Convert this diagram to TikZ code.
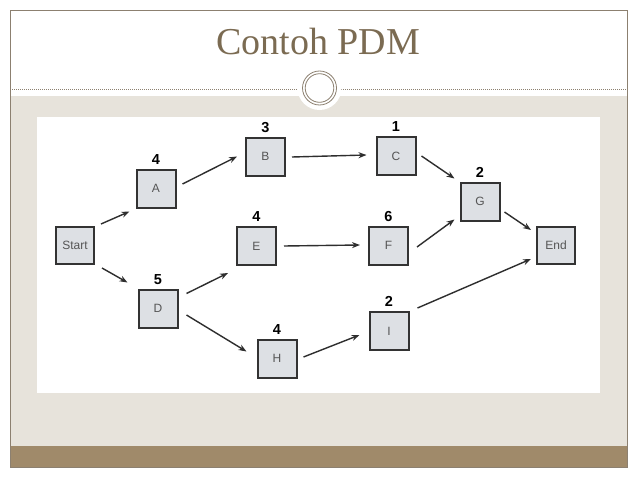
\documentclass[tikz,border=0pt]{standalone}
\usepackage{fontspec}
\setmainfont{Liberation Serif}
\setsansfont{Liberation Sans}
\usetikzlibrary{arrows.meta}
\definecolor{frameC}{HTML}{8C8070}
\definecolor{titleC}{HTML}{7B6B52}
\definecolor{beigeC}{HTML}{E7E3DB}
\definecolor{brownC}{HTML}{A08A6A}
\definecolor{boxF}{HTML}{DDE0E4}
\definecolor{boxD}{HTML}{333333}
\definecolor{txtC}{HTML}{555555}
\definecolor{arrC}{HTML}{2E2E2E}
\tikzset{
  box/.style={draw=boxD, fill=boxF, line width=2pt, minimum width=39pt, minimum height=38pt,
    inner sep=0pt, font=\sffamily\fontsize{12}{12}\selectfont, text=txtC},
  num/.style={font=\sffamily\bfseries\fontsize{14.5}{14.5}\selectfont, text=black, inner sep=0pt},
  boxn/.style={box, label={[num]90:#1}},
  arr/.style={draw=arrC, line width=1.4pt, -{Stealth[length=8pt,width=6pt]}},
  label distance=4pt
}
\begin{document}
\begin{tikzpicture}[x=1pt,y=-1pt]
\useasboundingbox (0,0) rectangle (638,479);
% slide background
\fill[white] (0,0) rectangle (638,479);
\fill[beigeC] (10,96) rectangle (627,446);
\fill[brownC] (10,446) rectangle (627,467);
\draw[frameC, line width=0.8pt] (10,10) rectangle (627,467);
\draw[frameC, line width=0.6pt, dash pattern=on 1pt off 1pt] (10,89) -- (297,89);
\draw[frameC, line width=0.6pt, dash pattern=on 1pt off 1pt] (341,89) -- (627,89);
\fill[white] (319.5,88) circle (22);
\draw[frameC, line width=0.8pt] (319.5,88) circle (17);
\draw[frameC, line width=0.8pt] (319.5,88) circle (14.3);
% title
\node[font=\fontsize{38}{38}\selectfont, text=titleC, inner sep=0pt, anchor=base] (title) at (318,54) {Contoh PDM};
% diagram area
\fill[white] (37,117) rectangle (600,393);
% nodes
\node[box, minimum width=38pt, minimum height=37pt] (Start) at (75,245.5) {Start};
\node[boxn=4] (A) at (156,188.5) {A};
\node[boxn=3] (B) at (265.5,156.5) {B};
\node[boxn=1] (C) at (396,156) {C};
\node[boxn=2] (G) at (480,201.5) {G};
\node[box, minimum width=38pt, minimum height=37pt] (End) at (556,245.5) {End};
\node[boxn=4] (E) at (256.5,246) {E};
\node[boxn=6] (F) at (388.5,245.5) {F};
\node[boxn=5] (D) at (158,308.5) {D};
\node[boxn=4] (H) at (277,358.5) {H};
\node[boxn=2] (I) at (389,331) {I};
% arrows
\draw[arr] ([shift={(6,-2)}]Start.north east) -- ([shift={(-6,3)}]A.south west);
\draw[arr] ([shift={(7,3)}]Start.south east) -- ([shift={(-10,-6)}]D.north west);
\draw[arr] ([shift={(6,-4.5)}]A.east) -- ([shift={(-8,0)}]B.west);
\draw[arr] ([shift={(6,0.5)}]B.east) -- ([shift={(-9,-1)}]C.west);
\draw[arr] ([shift={(5,0)}]C.east) -- ([shift={(-5,-3)}]G.north west);
\draw[arr] ([shift={(7,0)}]E.east) -- ([shift={(-8,-0.5)}]F.west);
\draw[arr] ([shift={(8,1.5)}]F.east) -- ([shift={(-5,-2)}]G.south west);
\draw[arr] ([shift={(4,10.5)}]G.east) -- ([shift={(-5,4)}]End.north west);
\draw[arr] ([shift={(8,5)}]D.north east) -- ([shift={(-8,7)}]E.south west);
\draw[arr] ([shift={(8,6.5)}]D.east) -- ([shift={(-10,13)}]H.north west);
\draw[arr] ([shift={(6,-1.5)}]H.east) -- ([shift={(-9,4)}]I.west);
\draw[arr] ([shift={(8,-3)}]I.north east) -- ([shift={(-5,-6)}]End.south west);
\end{tikzpicture}
\end{document}
